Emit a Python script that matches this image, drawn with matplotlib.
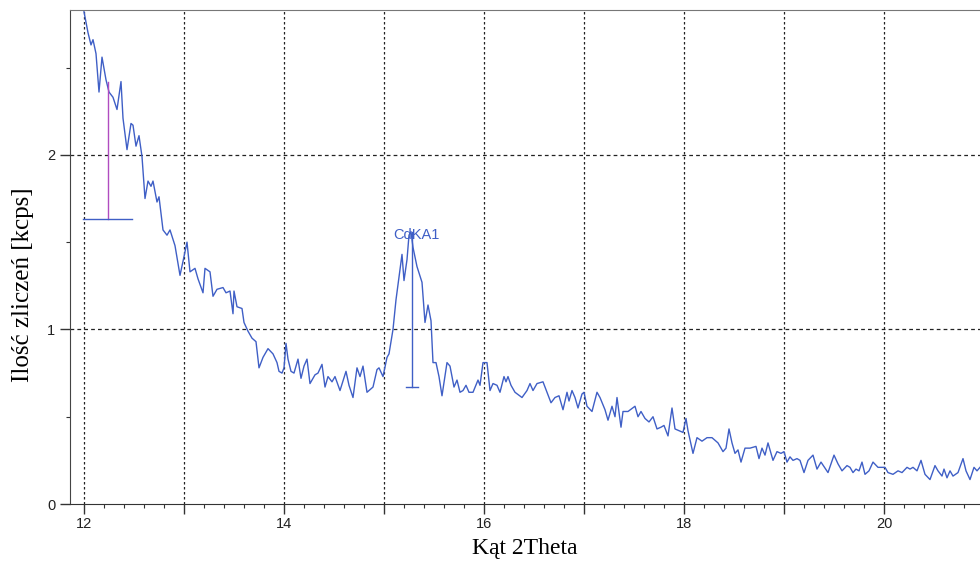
import numpy as np
import matplotlib.pyplot as plt
from matplotlib.ticker import MultipleLocator, FixedLocator

# spectrum (2Theta [deg], counts [kcps])
two_theta = [12.00, 12.04, 12.07, 12.09, 12.12, 12.15, 12.18, 12.22, 12.25, 12.29,
             12.33, 12.37, 12.39, 12.43, 12.47, 12.49, 12.52, 12.55, 12.58, 12.61,
             12.64, 12.67, 12.69, 12.73, 12.75, 12.79, 12.83, 12.86, 12.91, 12.96,
             12.99, 13.03, 13.06, 13.11, 13.14, 13.19, 13.21, 13.26, 13.29, 13.33,
             13.39, 13.42, 13.46, 13.49, 13.50, 13.53, 13.58, 13.60, 13.64, 13.68,
             13.72, 13.75, 13.79, 13.84, 13.89, 13.93, 13.95, 13.98, 14.00, 14.02,
             14.04, 14.07, 14.10, 14.14, 14.17, 14.20, 14.23, 14.26, 14.31, 14.34,
             14.38, 14.41, 14.44, 14.48, 14.51, 14.56, 14.62, 14.65, 14.69, 14.73,
             14.76, 14.79, 14.83, 14.89, 14.93, 14.95, 14.99, 15.03, 15.05, 15.09,
             15.12, 15.15, 15.18, 15.20, 15.23, 15.25, 15.27, 15.29, 15.33, 15.38,
             15.41, 15.44, 15.47, 15.49, 15.52, 15.55, 15.58, 15.63, 15.66, 15.70,
             15.73, 15.76, 15.79, 15.82, 15.85, 15.89, 15.94, 15.96, 15.99, 16.03,
             16.06, 16.09, 16.13, 16.16, 16.20, 16.22, 16.24, 16.27, 16.31, 16.38,
             16.43, 16.46, 16.49, 16.53, 16.59, 16.63, 16.67, 16.71, 16.75, 16.79,
             16.83, 16.85, 16.88, 16.91, 16.94, 16.98, 17.00, 17.03, 17.08, 17.13,
             17.16, 17.21, 17.24, 17.28, 17.31, 17.33, 17.37, 17.39, 17.44, 17.51,
             17.54, 17.57, 17.61, 17.65, 17.69, 17.73, 17.77, 17.80, 17.84, 17.88,
             17.91, 17.95, 17.99, 18.02, 18.04, 18.09, 18.13, 18.18, 18.23, 18.28,
             18.34, 18.39, 18.42, 18.45, 18.48, 18.51, 18.54, 18.57, 18.61, 18.66,
             18.72, 18.75, 18.78, 18.81, 18.84, 18.89, 18.93, 18.97, 19.00, 19.03,
             19.06, 19.09, 19.13, 19.16, 19.20, 19.24, 19.29, 19.33, 19.37, 19.44,
             19.50, 19.54, 19.58, 19.63, 19.66, 19.69, 19.72, 19.75, 19.78, 19.81,
             19.85, 19.89, 19.94, 19.98, 20.01, 20.04, 20.09, 20.14, 20.18, 20.23,
             20.26, 20.29, 20.33, 20.37, 20.41, 20.46, 20.51, 20.54, 20.58, 20.60,
             20.63, 20.66, 20.69, 20.74, 20.79, 20.82, 20.86, 20.90, 20.93, 20.96]
counts = [2.82, 2.70, 2.63, 2.66, 2.58, 2.36, 2.56, 2.43, 2.36, 2.33,
          2.26, 2.42, 2.21, 2.03, 2.18, 2.17, 2.05, 2.11, 1.99, 1.75,
          1.85, 1.82, 1.85, 1.73, 1.76, 1.57, 1.54, 1.57, 1.48, 1.31,
          1.39, 1.50, 1.33, 1.35, 1.29, 1.21, 1.35, 1.33, 1.19, 1.23,
          1.24, 1.21, 1.22, 1.09, 1.22, 1.13, 1.12, 1.04, 0.99, 0.95,
          0.93, 0.78, 0.84, 0.89, 0.86, 0.81, 0.76, 0.75, 0.78, 0.92,
          0.83, 0.76, 0.75, 0.83, 0.72, 0.79, 0.83, 0.69, 0.74, 0.75,
          0.80, 0.67, 0.73, 0.70, 0.73, 0.65, 0.76, 0.68, 0.61, 0.78,
          0.73, 0.79, 0.64, 0.67, 0.77, 0.78, 0.73, 0.84, 0.86, 1.00,
          1.17, 1.30, 1.43, 1.28, 1.40, 1.54, 1.56, 1.47, 1.36, 1.27,
          1.04, 1.14, 1.05, 0.81, 0.81, 0.73, 0.62, 0.81, 0.79, 0.67,
          0.71, 0.64, 0.65, 0.68, 0.64, 0.64, 0.71, 0.68, 0.81, 0.81,
          0.65, 0.69, 0.68, 0.64, 0.73, 0.70, 0.73, 0.68, 0.64, 0.61,
          0.65, 0.69, 0.65, 0.69, 0.70, 0.64, 0.58, 0.61, 0.62, 0.54,
          0.64, 0.59, 0.65, 0.61, 0.55, 0.63, 0.64, 0.56, 0.53, 0.64,
          0.61, 0.54, 0.48, 0.56, 0.50, 0.61, 0.44, 0.53, 0.53, 0.56,
          0.50, 0.53, 0.49, 0.47, 0.50, 0.43, 0.44, 0.45, 0.39, 0.55,
          0.43, 0.42, 0.41, 0.49, 0.42, 0.29, 0.38, 0.36, 0.38, 0.38,
          0.35, 0.30, 0.32, 0.43, 0.35, 0.29, 0.31, 0.24, 0.32, 0.32,
          0.33, 0.26, 0.32, 0.28, 0.35, 0.25, 0.30, 0.29, 0.30, 0.24,
          0.27, 0.25, 0.26, 0.25, 0.18, 0.25, 0.28, 0.20, 0.24, 0.18,
          0.28, 0.23, 0.19, 0.22, 0.21, 0.18, 0.20, 0.19, 0.24, 0.17,
          0.19, 0.24, 0.21, 0.21, 0.21, 0.18, 0.17, 0.19, 0.18, 0.21,
          0.20, 0.21, 0.19, 0.25, 0.17, 0.14, 0.22, 0.19, 0.16, 0.20,
          0.15, 0.19, 0.16, 0.18, 0.26, 0.19, 0.14, 0.21, 0.19, 0.21]

# line markers
marker1_x, marker1_top, marker1_base = 12.24, 2.42, 1.63
peak_name = "CdKA1"
peak_x, peak_top, peak_base = 15.28, 1.56, 0.672

blue = "#3f5fc6"
magenta = "#b04cc0"

fig = plt.figure(figsize=(9.8, 5.61), dpi=100)
ax = fig.add_axes([70 / 980, 1 - 504 / 561, 1 - 70 / 980, (504 - 10) / 561])

ax.plot(two_theta, counts, color=blue, lw=1.0)

# marker at the left
ax.plot([marker1_x, marker1_x], [marker1_base, marker1_top], color=magenta, lw=1)
ax.plot([11.99, 12.48], [marker1_base, marker1_base], color=blue, lw=1)

# CdKA1 marker
ax.plot([peak_x, peak_x], [peak_base, peak_top], color=blue, lw=1)
ax.plot([peak_x - 0.06, peak_x + 0.06], [peak_base, peak_base], color=blue, lw=1)
ax.text(peak_x + 0.04, 1.54, peak_name, color=blue, fontsize=10.5,
        family="Liberation Sans", ha="center", va="center")

ax.set_xlim(11.86, 20.96)
ax.set_ylim(0, 2.83)

ax.xaxis.set_major_locator(MultipleLocator(1))
ax.xaxis.set_minor_locator(MultipleLocator(0.2))
ax.yaxis.set_major_locator(FixedLocator([0, 1, 2]))
ax.yaxis.set_minor_locator(FixedLocator([0.5, 1.5, 2.5]))
ax.set_xticklabels([str(int(v)) if int(v) % 2 == 0 else "" for v in ax.get_xticks()])

ax.tick_params(axis="both", which="major", direction="out", length=7, width=1,
               labelsize=10.5, color="#333333", labelcolor="#222222")
ax.tick_params(axis="x", which="major", pad=2)
ax.tick_params(axis="both", which="minor", direction="out", length=3, width=0.8,
               color="#333333")
for lab in ax.get_xticklabels() + ax.get_yticklabels():
    lab.set_family("Liberation Sans")

for v in range(12, 21):
    ax.axvline(v, color="#222222", lw=0.9, ls=(0, (2, 2)), zorder=0)
for v in [1, 2]:
    ax.axhline(v, color="#222222", lw=0.9, ls=(0, (3, 2.5)), zorder=0)

ax.spines["right"].set_visible(False)
ax.spines["top"].set_color("#777777")
ax.spines["left"].set_color("#444444")
ax.spines["bottom"].set_color("#333333")

ax.set_xlabel("Kąt 2Theta", family="Liberation Serif", fontsize=17)
ax.set_ylabel("Ilość zliczeń [kcps]", family="Liberation Serif", fontsize=18)
ax.xaxis.set_label_coords(0.5, -0.09)
ax.yaxis.set_label_coords(-0.052, 0.443)
ax.xaxis.label.set_va("center")
ax.yaxis.label.set_va("center")

fig.savefig("out.png", dpi=100)
